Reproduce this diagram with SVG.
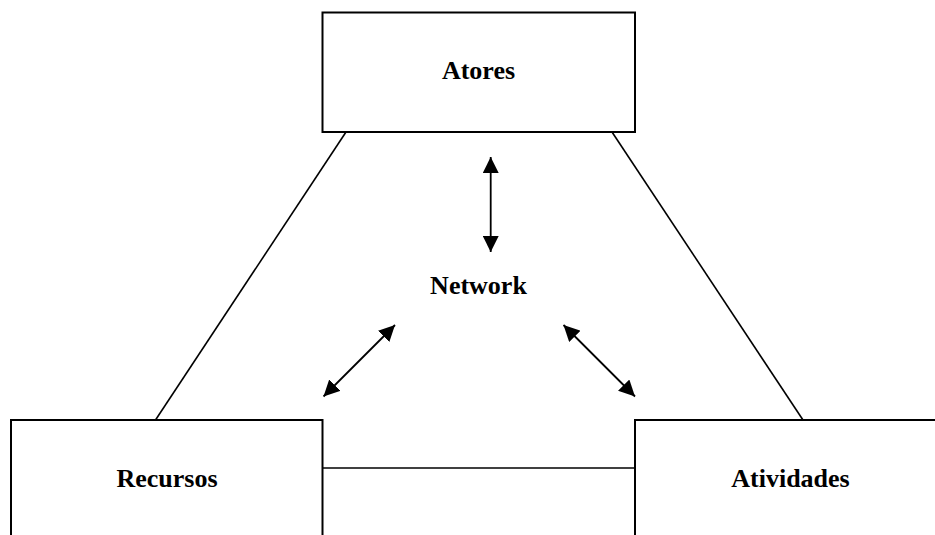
<svg xmlns="http://www.w3.org/2000/svg" width="935" height="535" viewBox="0 0 935 535">
  <style>
    .box { fill: #fff; stroke: #000; stroke-width: 2; }
    .edge { fill: none; stroke: #000; stroke-width: 1.6; }
    .arrow { fill: none; stroke: #000; stroke-width: 1.8; marker-start: url(#head); marker-end: url(#head); }
    .label { font-family: "Liberation Serif", "Times New Roman", serif; font-weight: bold; font-size: 26px; text-anchor: middle; fill: #000; }
  </style>
  <defs>
    <!-- filled triangular head, drawn at both ends of each link -->
    <marker id="head" viewBox="0 0 16 16" refX="16" refY="8" markerWidth="16" markerHeight="16" markerUnits="userSpaceOnUse" orient="auto-start-reverse">
      <path d="M0,0 L16,8 L0,16 Z" fill="#000"/>
    </marker>
  </defs>
  <rect width="935" height="535" fill="#fff"/>

  <g id="connectors">
    <line class="edge" x1="346" y1="132" x2="155.5" y2="420"/>
    <line class="edge" x1="612" y1="132" x2="803" y2="420"/>
    <line class="edge" x1="323" y1="468" x2="635" y2="468"/>
  </g>

  <g id="atores">
    <rect class="box" x="322.5" y="12.5" width="312.5" height="119.5"/>
    <text class="label" x="478.5" y="79">Atores</text>
  </g>

  <g id="recursos">
    <rect class="box" x="11" y="420" width="311.5" height="130"/>
    <text class="label" x="167" y="487">Recursos</text>
  </g>

  <g id="atividades">
    <rect class="box" x="635" y="420" width="310" height="130"/>
    <text class="label" x="790.5" y="487">Atividades</text>
  </g>

  <g id="network">
    <text class="label" x="478.5" y="294">Network</text>
  </g>

  <g id="links">
    <line class="arrow" x1="490.7" y1="157" x2="490.7" y2="252"/>
    <line class="arrow" x1="323.5" y1="396.5" x2="395" y2="325"/>
    <line class="arrow" x1="563.5" y1="325" x2="635" y2="396.5"/>
  </g>
</svg>
